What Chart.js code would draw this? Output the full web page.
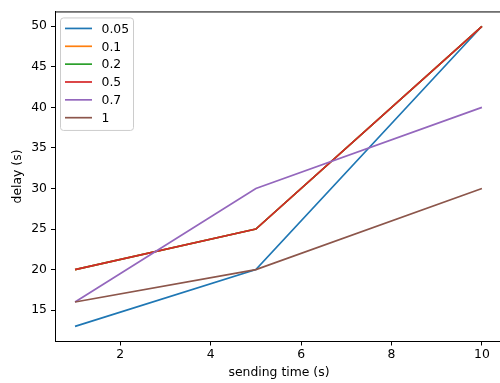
<!DOCTYPE html>
<html>
<head>
<meta charset="utf-8">
<script src="https://cdn.jsdelivr.net/npm/chart.js@4/dist/chart.umd.min.js"></script>
<style>
  html, body { margin: 0; padding: 0; background: #fff; overflow: hidden; }
  #wrap { width: 500px; height: 383px; overflow: hidden; }
</style>
</head>
<body>
<div id="wrap"><canvas id="chart" width="503" height="383"></canvas></div>
<script>
// data
const sendingTimes = [1, 5, 10];
const seriesNames = ['0.05', '0.1', '0.2', '0.5', '0.7', '1'];
const delay005 = [13, 20, 50];
const delay01 = [20, 25, 50];
const delay02 = [20, 25, 50];
const delay05 = [20, 25, 50];
const delay07 = [16, 30, 40];
const delay1 = [16, 20, 30];
const xTicks = [2, 4, 6, 8, 10];
const yTicks = [15, 20, 25, 30, 35, 40, 45, 50];

const colors = ['#1f77b4', '#ff7f0e', '#2ca02c', '#d62728', '#9467bd', '#8c564b'];
const allSeries = [delay005, delay01, delay02, delay05, delay07, delay1];
const FONT = 'DejaVu Sans';
const FSIZE = 12.4;

const datasets = allSeries.map(function(vals, i) {
    return {
        label: seriesNames[i],
        data: vals.map(function(v, j) { return { x: sendingTimes[j], y: v }; }),
        borderColor: colors[i],
        backgroundColor: colors[i],
        borderWidth: 1.7,
        pointRadius: 0,
        tension: 0,
        fill: false,
        order: allSeries.length - i   // last series on top, like matplotlib
    };
});

// box legend inside the top-left corner + top/right spines
const boxPlugin = {
    id: 'boxLegend',
    afterDatasetsDraw: function(chart) {
        const ctx = chart.ctx;
        const a = chart.chartArea;
        ctx.save();
        ctx.strokeStyle = '#000';
        ctx.lineWidth = 1;
        ctx.beginPath();
        ctx.moveTo(a.left, a.top + 0.5);
        ctx.lineTo(a.right - 0.5, a.top + 0.5);
        ctx.lineTo(a.right - 0.5, a.bottom);
        ctx.stroke();

        // legend frame
        const lx = a.left + 5.5, ly = a.top + 6.5, lw = 73, lh = 112.5, r = 3;
        ctx.fillStyle = 'rgba(255,255,255,0.8)';
        ctx.strokeStyle = '#cccccc';
        ctx.beginPath();
        ctx.moveTo(lx + r, ly);
        ctx.lineTo(lx + lw - r, ly);
        ctx.quadraticCurveTo(lx + lw, ly, lx + lw, ly + r);
        ctx.lineTo(lx + lw, ly + lh - r);
        ctx.quadraticCurveTo(lx + lw, ly + lh, lx + lw - r, ly + lh);
        ctx.lineTo(lx + r, ly + lh);
        ctx.quadraticCurveTo(lx, ly + lh, lx, ly + lh - r);
        ctx.lineTo(lx, ly + r);
        ctx.quadraticCurveTo(lx, ly, lx + r, ly);
        ctx.closePath();
        ctx.fill();
        ctx.stroke();

        ctx.font = FSIZE + 'px "' + FONT + '"';
        ctx.textBaseline = 'middle';
        ctx.textAlign = 'left';
        seriesNames.forEach(function(name, i) {
            const y = ly + 10.5 + i * 17.85;
            ctx.strokeStyle = colors[i];
            ctx.lineWidth = 1.7;
            ctx.beginPath();
            ctx.moveTo(lx + 4.5, y);
            ctx.lineTo(lx + 31.5, y);
            ctx.stroke();
            ctx.fillStyle = '#000';
            ctx.fillText(name, lx + 41, y + 1);
        });
        ctx.restore();
    }
};

new Chart(document.getElementById('chart').getContext('2d'), {
    type: 'line',
    data: { datasets: datasets },
    options: {
        responsive: false,
        animation: false,
        layout: { padding: { top: 8, right: 0, left: 0, bottom: 0 } },
        plugins: {
            legend: { display: false },
            tooltip: { enabled: false }
        },
        scales: {
            x: {
                type: 'linear',
                min: 0.557,
                max: 10.466,
                afterBuildTicks: function(axis) {
                    axis.ticks = xTicks.map(function(v) { return { value: v }; });
                },
                afterFit: function(axis) { axis.height = 41.5; },
                grid: { drawOnChartArea: false, drawTicks: true, tickLength: 4, color: '#000' },
                border: { display: true, color: '#000', width: 1 },
                ticks: { color: '#000', font: { family: FONT, size: FSIZE }, padding: 2, maxRotation: 0 },
                title: {
                    display: true, text: 'sending time (s)', color: '#000',
                    font: { family: FONT, size: FSIZE }, padding: { top: 1, bottom: 3 }
                }
            },
            y: {
                type: 'linear',
                min: 11.13,
                max: 51.83,
                afterBuildTicks: function(axis) {
                    axis.ticks = yTicks.map(function(v) { return { value: v }; });
                },
                afterFit: function(axis) { axis.width = 55; },
                grid: { drawOnChartArea: false, drawTicks: true, tickLength: 4, color: '#000' },
                border: { display: true, color: '#000', width: 1 },
                ticks: { color: '#000', font: { family: FONT, size: FSIZE }, padding: 4 },
                title: {
                    display: true, text: 'delay (s)', color: '#000',
                    font: { family: FONT, size: FSIZE }, padding: { top: 10, bottom: 4 }
                }
            }
        }
    },
    plugins: [boxPlugin]
});
</script>
</body>
</html>
